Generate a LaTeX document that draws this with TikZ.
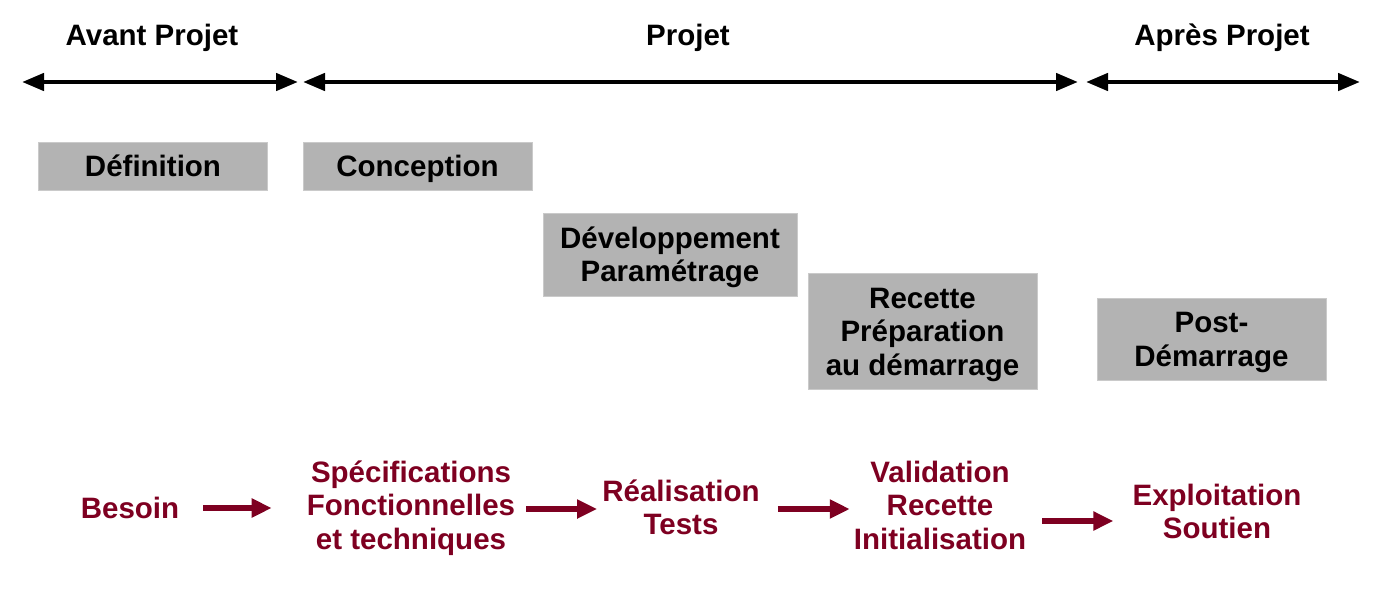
\documentclass[tikz,border=0pt]{standalone}
\usepackage{fontspec}
\setmainfont{Liberation Sans}
\usepackage{xcolor}
\usetikzlibrary{arrows.meta, positioning}

\definecolor{phasegray}{HTML}{B3B3B3}
\definecolor{flowred}{HTML}{7E0021}
% same height and depth for every first and last line
\newcommand{\linestrut}{\rule[-6.25pt]{0pt}{33.5pt}}

\begin{document}
\begin{tikzpicture}[
    x=1pt, y=-1pt,
    txt/.style={font=\bfseries\fontsize{29.5}{33.5}\selectfont, inner sep=0pt, align=center},
    phase/.style={txt, text=black},
    box/.style={rectangle, fill=phasegray, draw=phasegray!70!white, line width=0.8pt,
        minimum width=229pt, inner sep=0pt, txt},
    flow/.style={txt, text=flowred},
    span/.style={{Triangle[length=22pt, width=17pt]}-{Triangle[length=22pt, width=17pt]}, line width=4.5pt},
    arr/.style={-{Triangle[length=20pt, width=18pt]}, line width=6pt, draw=flowred}
]
\useasboundingbox (0,0) rectangle (1381,605);

% periods
\node[phase] (avant) at (152,35) {\linestrut Avant Projet};
\node[phase] (projet) at (688,35) {\linestrut Projet};
\node[phase] (apres) at (1222,35) {\linestrut Après Projet};

\coordinate (a0) at (22,82);   \coordinate (a1) at (298,82);
\coordinate (p0) at (303,82);  \coordinate (p1) at (1078,82);
\coordinate (s0) at (1086,82); \coordinate (s1) at (1360,82);
\draw[span] (a0) -- (a1);
\draw[span] (p0) -- (p1);
\draw[span] (s0) -- (s1);

% phases
\node[box, minimum height=48pt] (def) at (153,166) {\linestrut Définition};
\node[box, minimum height=48pt] (conc) at (417.5,166) {\linestrut Conception};
\node[box, minimum width=254pt, minimum height=83pt] (dev) at (670,254.5) {\linestrut Développement\\Paramétrage\linestrut};
\node[box, minimum height=116pt] (rec) at (922.5,331) {\linestrut Recette\\Préparation\\au démarrage\linestrut};
\node[box, minimum height=82pt] (post) at (1211.5,339) {\linestrut Post-\\Démarrage\linestrut};

% livrables
\node[flow] (besoin) at (130,508) {\linestrut Besoin};
\node[flow] (spec) at (411,505) {\linestrut Spécifications\\Fonctionnelles\\et techniques\linestrut};
\node[flow] (real) at (681,507.5) {\linestrut Réalisation\\Tests\linestrut};
\node[flow] (valid) at (940,505) {\linestrut Validation\\Recette\\Initialisation\linestrut};
\node[flow] (exploit) at (1217,511.5) {\linestrut Exploitation\\Soutien\linestrut};

\draw[arr, shorten <=24pt, shorten >=35pt] (besoin.east |- 0,508) -- (spec.west |- 0,508);
\draw[arr, shorten <=11pt, shorten >=5pt] (spec.east |- 0,509) -- (real.west |- 0,509);
\draw[arr, shorten <=18pt, shorten >=4pt] (real.east |- 0,509) -- (valid.west |- 0,509);
\draw[arr, shorten <=16pt, shorten >=19pt] (valid.east |- 0,521) -- (exploit.west |- 0,521);
\end{tikzpicture}
\end{document}
